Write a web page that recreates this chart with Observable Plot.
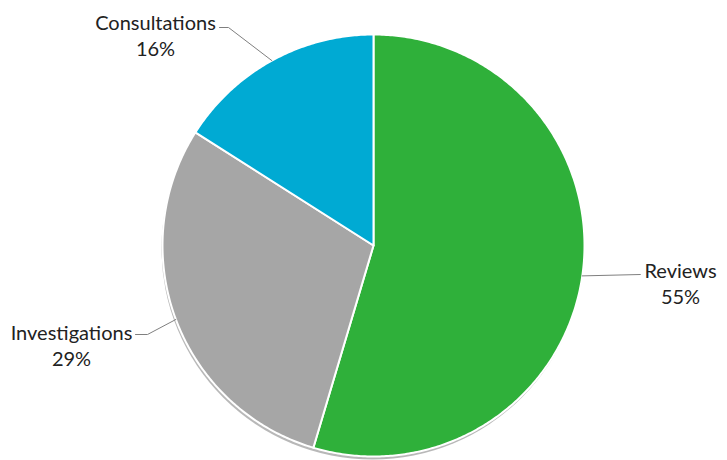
<!DOCTYPE html>
<html>
<head>
<meta charset="utf-8">
<script src="https://cdn.jsdelivr.net/npm/d3@7"></script>
<script src="https://cdn.jsdelivr.net/npm/@observablehq/plot@0.6"></script>
<style>
  html, body { margin: 0; padding: 0; background: #fff; }
  #chart { width: 727px; height: 460px; }
</style>
</head>
<body>
<div id="chart"></div>
<script>
// ---- data ----
const categories = ["Reviews", "Investigations", "Consultations"];
const values = [54.6, 29.4, 16.0];
const colors = ["#2fb03a", "#a6a6a6", "#00aad3"];

// ---- layout (pixels) ----
const W = 727, H = 460;
const cx = 373, cy = 245, R = 211;
const labelLayout = {
  "Reviews":        {x: 680, y: 282, elbow: [640, 274], end: [640, 274]},
  "Investigations": {x: 71,  y: 344, elbow: [147, 334], end: [135, 334]},
  "Consultations":  {x: 155, y: 34,  elbow: [228, 27],  end: [219, 27]}
};
const toX = px => (px - cx) / R;
const toY = py => (cy - py) / R;

const total = d3.sum(values);
const arcs = d3.pie().sort(null).value(d => d.value)(
  categories.map((c, i) => ({category: c, value: values[i]}))
);

// slice outlines in unit-radius coordinates
const slicePts = [];
for (const a of arcs) {
  const cat = a.data.category;
  slicePts.push({category: cat, x: 0, y: 0});
  const n = Math.max(2, Math.ceil((a.endAngle - a.startAngle) / 0.01));
  for (let k = 0; k <= n; k++) {
    const t = a.startAngle + (a.endAngle - a.startAngle) * k / n;
    slicePts.push({category: cat, x: Math.sin(t), y: Math.cos(t)});
  }
}

// leader lines
const leaderPts = [];
for (const a of arcs) {
  const cat = a.data.category;
  const m = (a.startAngle + a.endAngle) / 2;
  const L = labelLayout[cat];
  leaderPts.push({category: cat, x: Math.sin(m), y: Math.cos(m)});
  leaderPts.push({category: cat, x: toX(L.elbow[0]), y: toY(L.elbow[1])});
  leaderPts.push({category: cat, x: toX(L.end[0]), y: toY(L.end[1])});
}

const labels = arcs.map(a => {
  const cat = a.data.category;
  const L = labelLayout[cat];
  return {
    x: toX(L.x), y: toY(L.y),
    text: cat + "\n" + Math.round(a.data.value / total * 100) + "%"
  };
});

const plot = Plot.plot({
  width: W, height: H,
  marginTop: 0, marginRight: 0, marginBottom: 0, marginLeft: 0,
  x: {domain: [toX(0), toX(W)], axis: null},
  y: {domain: [toY(H), toY(0)], axis: null},
  color: {domain: categories, range: colors},
  style: {background: "#fff", fontFamily: "Lato, 'DejaVu Sans', sans-serif"},
  marks: [
    Plot.dot([0], {x: () => 0, y: () => 0, r: R, fill: "#000", fillOpacity: 0.28, stroke: "none", dy: 3, dx: -1, ariaLabel: "shadow"}),
    Plot.line(slicePts, {x: "x", y: "y", z: "category", fill: "category", stroke: "#fff", strokeWidth: 2, curve: "linear-closed", strokeLinejoin: "round"}),
    Plot.line(leaderPts, {x: "x", y: "y", z: "category", stroke: "#7f7f7f", strokeWidth: 1}),
    Plot.text(labels, {x: "x", y: "y", text: "text", fontSize: 20, lineHeight: 1.3, textAnchor: "middle", fill: "#222"})
  ]
});

// soft blur for the shadow
const svg = d3.select(plot);
svg.insert("defs", ":first-child").html(
  '<filter id="pieShadow" x="-20%" y="-20%" width="140%" height="140%"><feGaussianBlur stdDeviation="3"/></filter>'
);
svg.select('g[aria-label="shadow"]').attr("filter", "url(#pieShadow)");

document.getElementById("chart").appendChild(plot);
</script>
</body>
</html>
